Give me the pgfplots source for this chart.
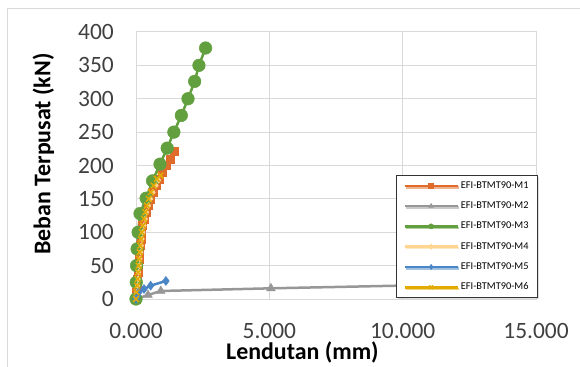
\documentclass[border=0pt]{standalone}
\usepackage{fontspec}
\setmainfont{Carlito}
\usepackage{pgfplots}
\pgfplotsset{compat=1.18}
\usetikzlibrary{shadows}
\definecolor{cM1}{HTML}{E06C2C}
\definecolor{cM2}{HTML}{979797}
\definecolor{cM3}{HTML}{629F3E}
\definecolor{cM4}{HTML}{FFD590}
\definecolor{cM5}{HTML}{4A86C5}
\definecolor{cM6}{HTML}{E3AA00}
\definecolor{gridc}{HTML}{D9D9D9}
\definecolor{tickc}{HTML}{404040}
\begin{document}
\begin{tikzpicture}
\useasboundingbox (0,0) rectangle (580bp,367bp);
\draw[gridc, line width=1bp] (7bp,-20bp) rectangle (620bp,358bp);
\begin{axis}[
  at={(136bp,68bp)}, anchor=south west,
  scale only axis, width=400bp, height=267bp,
  xmin=0, xmax=15, ymin=0, ymax=400,
  xtick={0,5,10,15}, ytick={0,50,...,400},
  xticklabels={0.000,5.000,10.000,15.000},
  grid=major, major grid style={gridc, line width=1bp},
  axis line style={gridc, line width=1bp},
  major tick length=0pt,
  /pgf/number format/assume math mode=true,
  tick label style={font=\fontsize{23.5}{26}\selectfont, text=tickc, inner sep=0pt},
  yticklabel style={xshift=-22bp},
  xticklabel style={yshift=-24bp},
  xlabel={\textbf{Lendutan (mm)}},
  ylabel={\textbf{Beban Terpusat (kN)}},
  label style={font=\fontsize{24}{26}\selectfont, inner sep=0pt},
  xlabel style={at={(axis description cs:0.416,-0.228)}, anchor=base},
  ylabel style={at={(axis description cs:-0.214,0.543)}, anchor=base},
  legend style={at={(axis description cs:1.005,0.464)}, anchor=north east,
    font=\fontsize{10.4}{12}\selectfont, draw=black!80, line width=0.8bp,
    nodes={text height=7.5bp, text depth=2.5bp, inner ysep=3.5bp, inner xsep=2bp},
    row sep=3.3bp, inner xsep=7bp, inner ysep=1.75bp,
    drop shadow={shadow xshift=1.5bp, shadow yshift=-1.5bp, fill=gray!50}},
  legend cell align=left,
  legend image code/.code={%
    \draw[mark repeat=2,mark phase=2,#1, mark size=2.6bp] plot coordinates {(0bp,0bp) (26.5bp,0bp) (53bp,0bp)};},
  every axis plot/.append style={line width=2.5bp},
]
\addplot[cM1, mark=square*, mark size=4bp, mark options={line width=0.5bp}] coordinates {
(0,0) (0.02,10) (0.04,20) (0.06,30) (0.08,40) (0.1,50) (0.12,60) (0.14,70) (0.16,80) (0.18,90) (0.2,100) (0.25,110) (0.3,120) (0.37,130) (0.45,140) (0.55,150) (0.65,160) (0.75,170) (0.87,180) (1.0,190) (1.12,200) (1.27,210) (1.45,222)};
\addlegendentry{EFI-BTMT90-M1}
\addplot[cM2, mark=triangle*, mark size=5bp, mark options={line width=0.5bp}] coordinates {
(0,0) (0.45,6) (0.93,12) (5.06,16) (13.5,23)};
\addlegendentry{EFI-BTMT90-M2}
\addplot[cM3, mark=*, mark size=6.3bp, mark options={line width=0.5bp}] coordinates {
(0,0) (0.01,25) (0.02,50) (0.04,75) (0.08,100) (0.15,128) (0.38,151) (0.62,177) (0.90,202) (1.17,226) (1.42,250) (1.70,275) (1.95,300) (2.20,326) (2.36,350) (2.61,376)};
\addlegendentry{EFI-BTMT90-M3}
\addplot[cM4, mark=diamond*, mark size=3bp, mark options={line width=0.5bp}] coordinates {
(0,0) (0.03,10) (0.06,20) (0.08,30) (0.1,40) (0.13,50) (0.15,60) (0.18,70) (0.2,80) (0.23,90) (0.26,100) (0.3,110) (0.35,120) (0.4,130) (0.47,140) (0.55,150) (0.64,160) (0.75,170) (0.85,178)};
\addlegendentry{EFI-BTMT90-M4}
\addplot[cM5, mark=diamond*, mark size=4.5bp, mark options={line width=0.5bp}] coordinates {
(0,0) (0.05,5) (0.1,10) (0.3,15) (0.55,20) (1.12,27)};
\addlegendentry{EFI-BTMT90-M5}
\addplot[cM6, mark=x, mark size=4bp, mark options={line width=1.5bp}] coordinates {
(0,0) (0.02,10) (0.04,20) (0.06,30) (0.08,40) (0.1,50) (0.12,60) (0.14,70) (0.16,80) (0.19,90) (0.22,100) (0.26,110) (0.30,120) (0.35,130) (0.41,140) (0.48,150) (0.56,160) (0.66,170) (0.78,180) (0.92,185)};
\addlegendentry{EFI-BTMT90-M6}
\end{axis}
\end{tikzpicture}
\end{document}
